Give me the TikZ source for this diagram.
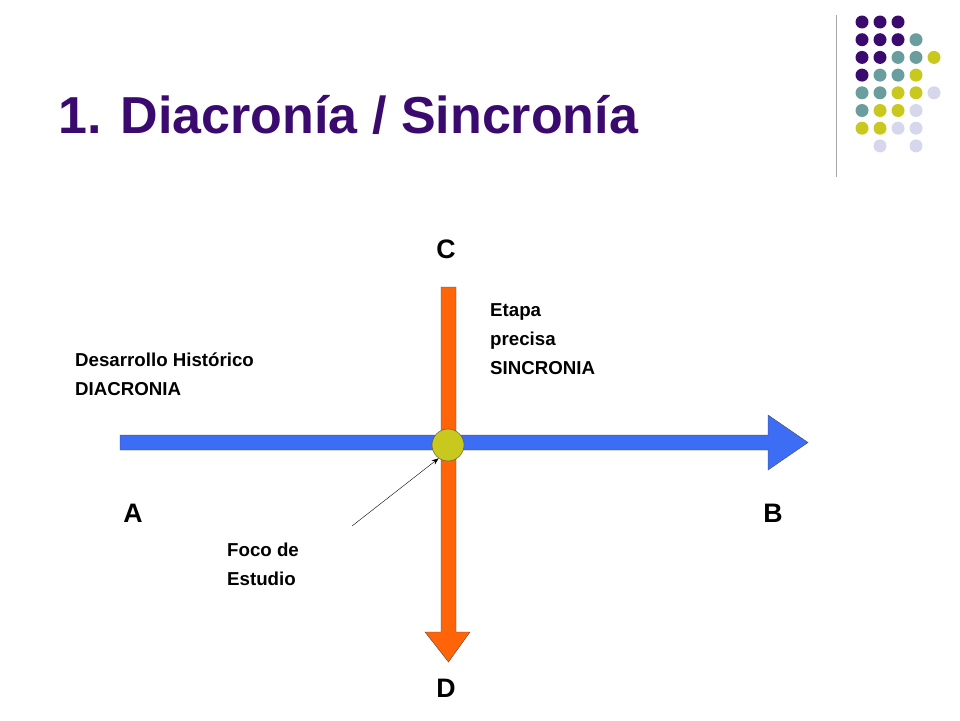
\documentclass[tikz,border=0pt]{standalone}
\usepackage{fontspec}
\setmainfont{Liberation Sans}
\definecolor{titlepurple}{HTML}{3B0A6E}
\definecolor{dotteal}{HTML}{6A9E9E}
\definecolor{dotyellow}{HTML}{C8C81E}
\definecolor{dotlilac}{HTML}{D6D6EC}
\definecolor{axisblue}{HTML}{3D6CF5}
\definecolor{axisorange}{HTML}{FF6408}
\definecolor{focusgreen}{HTML}{C8C81E}
\usetikzlibrary{arrows.meta}
\tikzset{
  lbl/.style={font=\bfseries\fontsize{18.7}{29}\selectfont, align=left, anchor=north west, inner sep=0pt},
  pt/.style={font=\bfseries\fontsize{26.7}{30}\selectfont, inner sep=0pt},
  dot/.style={circle, fill=#1, minimum size=13pt, inner sep=0pt}
}
\begin{document}
\begin{tikzpicture}[x=1pt,y=-1pt]
\useasboundingbox (0,0) rectangle (960,720);
% title and rule
\node[anchor=west, text=titlepurple, font=\bfseries\fontsize{52}{60}\selectfont, inner sep=0pt] (title) at (58,115) {1. Diacronía / Sincronía};
\draw[gray!70] (836,15) -- (836,177);
% dot grid (column/row)
\foreach \c/\r in {0/0,1/0,2/0,0/1,1/1,2/1,0/2,1/2,0/3}
  \node[dot=titlepurple] at (862+18*\c,22+17.7*\r) {};
\foreach \c/\r in {3/1,2/2,3/2,1/3,2/3,0/4,1/4,0/5}
  \node[dot=dotteal] at (862+18*\c,22+17.7*\r) {};
\foreach \c/\r in {4/2,3/3,2/4,3/4,1/5,2/5,0/6,1/6}
  \node[dot=dotyellow] at (862+18*\c,22+17.7*\r) {};
\foreach \c/\r in {4/4,3/5,2/6,3/6,1/7,3/7}
  \node[dot=dotlilac] at (862+18*\c,22+17.7*\r) {};
% axes
\draw[fill=axisblue, draw=black!70] (120,435) -- (768,435) -- (768,415) -- (808,442.5)
  -- (768,470) -- (768,450) -- (120,450) -- cycle;
\draw[fill=axisorange, draw=black!70] (441,287) -- (456,287) -- (456,632) -- (470,632)
  -- (448.5,662) -- (425,632) -- (441,632) -- cycle;
\node[circle, fill=focusgreen, draw=black!70, minimum size=32pt, inner sep=0pt] (focus) at (448,445) {};
% labels
\node[pt] (C) at (446,249) {C};
\node[pt] (D) at (446,688) {D};
\node[pt] (A) at (133,513) {A};
\node[pt] (B) at (773,513) {B};
\node[lbl] (diac) at (75,353) {Desarrollo Histórico\\DIACRONIA};
\node[lbl] (sinc) at (490,303) {Etapa\\precisa\\SINCRONIA};
\node[lbl] (foco) at (227,543) {Foco de\\Estudio};
\coordinate (fococ) at (352,526);
\draw[-{Stealth[length=7pt]}] (fococ) -- (focus.235);
\end{tikzpicture}
\end{document}
